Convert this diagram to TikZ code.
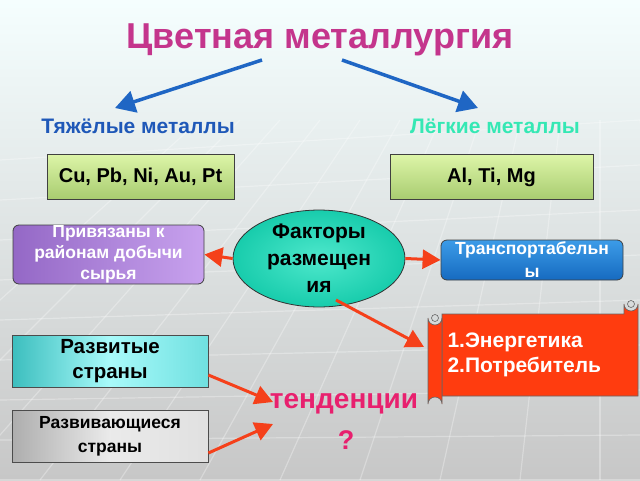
\documentclass[tikz,border=0pt]{standalone}
\usepackage{fontspec}
\setmainfont{Liberation Sans}
\usetikzlibrary{shapes.geometric,arrows.meta,calc}
\definecolor{titlec}{HTML}{C4358C}
\definecolor{bluearr}{HTML}{1F66C4}
\definecolor{heavyc}{HTML}{1F58B8}
\definecolor{lightc}{HTML}{35E8B4}
\definecolor{redarr}{HTML}{F5401A}
\definecolor{scrollc}{HTML}{FF3C0F}
\definecolor{tendc}{HTML}{E8206E}
\definecolor{greentop}{HTML}{DDF5A8}
\definecolor{greenbot}{HTML}{A8CC70}
\definecolor{purpl}{HTML}{9468C6}
\definecolor{purpr}{HTML}{C8A2EE}
\definecolor{bluetop}{HTML}{3C9CE8}
\definecolor{bluebot}{HTML}{166AC0}
\definecolor{tealin}{HTML}{4EE8CC}
\definecolor{tealout}{HTML}{18CCAC}
\definecolor{cyanl}{HTML}{3CBEBE}
\definecolor{cyanm}{HTML}{A8FAFA}
\definecolor{cyanr}{HTML}{70E0E0}
\tikzset{
  metalbox/.style={draw=black!75, line width=0.8pt, top color=greentop, bottom color=greenbot, minimum height=45pt, font=\bfseries\fontsize{20}{22}\selectfont, text=black},
  bluearrow/.style={draw=bluearr, line width=3.5pt, -{Triangle[length=20pt,width=22pt]}},
  redarrow/.style={draw=redarr, line width=3pt, -{Triangle[length=18pt,width=19pt]}},
  lbl/.style={font=\bfseries\fontsize{21}{23}\selectfont},
}
\begin{document}
\begin{tikzpicture}[x=1pt,y=-1pt]
\useasboundingbox (0,0) rectangle (640,480);
\shade[top color=black!6!cyan!4!white, bottom color=black!22] (0,0) rectangle (640,480);
% faint grid
\begin{scope}[white, opacity=0.3, line width=1.2pt]
\foreach \i in {0,...,12} {\draw (-200+\i*80,480) -- (200+\i*40,120);}
\foreach \j in {0,...,8} {\draw (0,160+\j*40) -- (640,120+\j*45);}
\end{scope}
% title
\node[font=\bfseries\fontsize{36}{38}\selectfont, text=titlec] (title) at (320,40) {Цветная металлургия};
\node[lbl, text=heavyc] (heavy) at (138,126) {Тяжёлые металлы};
\node[lbl, text=lightc] (light) at (495,126) {Лёгкие металлы};
\coordinate (tl) at (262,60);
\coordinate (tr) at (342,60);
\coordinate (hl) at (115,108);
\coordinate (hr) at (478,108);
\draw[bluearrow] (tl) -- (hl);
\draw[bluearrow] (tr) -- (hr);
% metal boxes
\node[metalbox, minimum width=187pt] (heavybox) at (140.5,176.5) {Cu, Pb, Ni, Au, Pt};
\node[metalbox, minimum width=203pt] (lightbox) at (491.5,177) {Al, Ti, Mg};
% factors
\node[draw=black!80, line width=0.8pt, ellipse, minimum width=172pt, minimum height=84pt, inner sep=0pt,
  inner color=tealin, outer color=tealout,
  font=\bfseries\fontsize{21}{27}\selectfont, align=center] (fact) at (319,258.5) {Факторы\\размещен\\ия};
\node[draw=black!75, line width=0.8pt, rounded corners=6pt, minimum width=191pt, minimum height=59pt,
  left color=purpl, right color=purpr, text=white,
  font=\bfseries\fontsize{17.5}{21}\selectfont, align=center, inner sep=0pt] (raw) at (108.5,254.5) {Привязаны к\\районам добычи\\сырья};
\node[draw=black!75, line width=0.8pt, rounded corners=6pt, minimum width=182pt, minimum height=40pt,
  top color=bluetop, bottom color=bluebot, text=white,
  font=\bfseries\fontsize{17.5}{23}\selectfont, align=center, inner sep=0pt] (trans) at (532,260) {Транспортабельн\\ы};
\draw[redarrow] (fact.west) -- (raw.east);
\draw[redarrow] (fact.east) -- (trans.west);
% scroll
\fill[scrollc, draw=black!60, line width=0.6pt] (442,314) -- (624,314) -- (624,304) arc[start angle=180,end angle=0,radius=7] -- (638,396) -- (442,396) -- cycle;
\fill[scrollc, draw=black!60, line width=0.6pt] (428,318) arc[start angle=180,end angle=0,radius=7] -- (442,404) arc[start angle=0,end angle=-180,radius=7] -- cycle;
\draw[black!60, line width=0.6pt] (435,318) circle[radius=3.5];
\draw[black!60, line width=0.6pt] (631,304) circle[radius=3.5];
\node[text=white, font=\bfseries\fontsize{21}{25}\selectfont, align=left, anchor=west] (scroll) at (444,355) {1.Энергетика\\2.Потребитель};
\coordinate (scrollin) at (424,347);
\coordinate (factb) at (336,300);
\draw[redarrow] (factb) -- (scrollin);
% countries
\node[draw=black!70, line width=0.8pt, minimum width=196pt, minimum height=52pt,
  left color=cyanl, right color=cyanr, middle color=cyanm,
  font=\bfseries\fontsize{20.5}{25}\selectfont, align=center, inner sep=0pt] (dev) at (110,361) {Развитые\\страны};
\node[draw=black!70, line width=0.8pt, minimum width=196pt, minimum height=52pt,
  left color=black!32, right color=black!12, middle color=black!8,
  font=\bfseries\fontsize{17.5}{24}\selectfont, align=center, inner sep=0pt] (devg) at (110,436) {Развивающиеся\\страны};
\node[text=tendc, font=\bfseries\fontsize{28}{30}\selectfont] (tend) at (344,404) {тенденции};
\node[text=tendc, font=\bfseries\fontsize{27}{30}\selectfont] (q) at (346,440) {?};
\coordinate (t1) at (273,402);
\coordinate (t2) at (273,424);
\draw[redarrow] ($(dev.east)+(0,14)$) -- (t1);
\draw[redarrow] ($(devg.east)+(0,17)$) -- (t2);
\end{tikzpicture}
\end{document}
